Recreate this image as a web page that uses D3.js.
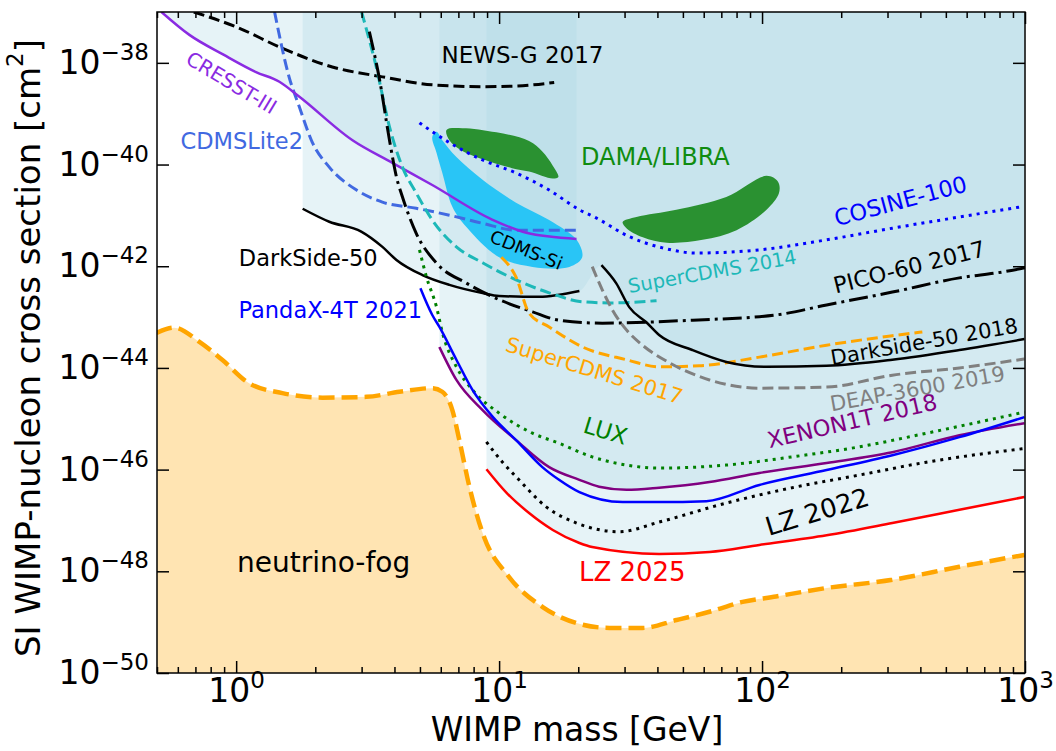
<!DOCTYPE html>
<meta charset="utf-8">
<script src="https://d3js.org/d3.v7.min.js"></script>
<style>
  body { margin: 0; background: #fff; }
  text { font-family: "DejaVu Sans", sans-serif; }
</style>
<div id="chart"></div>
<script>

// ---- data: [WIMP mass (GeV), cross section (cm^2)] ----
var cresst    = [[0.52,1e-37],[0.664,3.55e-38],[0.895,1.45e-38],[1.19,6.6e-39],[1.46,4.25e-39],[1.74,2.15e-39],[2.77,3.0e-40],[3.94,1.07e-40],[5.57,3.96e-41],[9.44,8.2e-42],[12.7,4.55e-42],[19.7,3.45e-42]];
var cdmslite  = [[1.40,1e-37],[1.59,5.25e-39],[1.74,1.35e-39],[1.95,2.7e-40],[2.26,8.9e-41],[2.87,3.15e-41],[3.60,1.82e-41],[4.84,1.38e-41],[6.47,1.01e-41],[8.63,7.0e-42],[11.6,5.1e-42],[19.9,5.1e-42]];
var newsg     = [[0.69,1e-37],[1.0,5.1e-38],[1.51,1.9e-38],[2.32,8.3e-39],[3.60,5.3e-39],[5.57,3.7e-39],[8.65,3.4e-39],[11.6,3.5e-39],[16.2,4.1e-39]];
var darkside  = [[1.79,1.35e-41],[2.26,7.5e-42],[2.99,4.8e-42],[3.60,2.4e-42],[4.07,1.33e-42],[5.11,6.7e-43],[6.47,4.3e-43],[8.65,2.97e-43],[10.0,2.6e-43],[14.2,2.5e-43],[20.2,3.25e-43]];
var pico60    = [[3.21,4.1e-38],[3.51,4.7e-39],[3.83,3.0e-40],[4.07,5.7e-41],[4.29,2.3e-41],[4.84,4.45e-42],[5.78,1.15e-42],[7.51,4.65e-43],[10.0,2.2e-43],[13.4,1.27e-43],[16.9,8.7e-44],[24.7,7.6e-44],[54.5,8.7e-44],[113,1.1e-43],[176,1.73e-43],[313,3.1e-43],[563,5.9e-43],[821,7.7e-43],[1000,9.3e-43]];
var scdms2014 = [[3.0,1e-37],[3.41,8.3e-39],[3.83,5.5e-40],[4.29,8.9e-41],[4.84,2.75e-41],[5.57,8.1e-42],[6.88,2.4e-42],[8.65,1.17e-42],[11.6,5.4e-43],[15.5,3.0e-43],[20.7,2.0e-43],[26.3,1.9e-43],[39.7,2.1e-43]];
var scdms2017 = [[10.2,1.5e-42],[11.6,6.1e-43],[13.0,1.2e-43],[15.5,6.4e-44],[20.7,2.6e-44],[30.5,1.45e-44],[40.6,1.05e-44],[57.7,1.1e-44],[97.7,1.63e-44],[176,2.8e-44],[313,4.3e-44],[407,5.1e-44]];
var ds2018    = [[24.5,1.05e-42],[27.9,4.6e-43],[31.3,1.55e-43],[36.3,7.9e-44],[40.6,4.45e-44],[54.3,2.25e-44],[73.2,1.31e-44],[104,1.05e-44],[176,1.1e-44],[313,1.45e-44],[563,2.25e-44],[995,3.7e-44]];
var deap      = [[22.6,9.8e-43],[24.7,3.4e-43],[27.0,1.37e-43],[30.5,5.6e-44],[35.1,2.8e-44],[44.5,1.26e-44],[63.1,5.8e-45],[97.7,4.0e-45],[176,4.2e-45],[313,7.2e-45],[563,1.0e-44],[995,1.5e-44]];
var cosine    = [[4.98,6.6e-40],[6.47,2.7e-40],[8.65,1.23e-40],[11.6,6.8e-41],[15.5,3.15e-41],[20.2,1.29e-41],[23.4,8.9e-42],[31.3,3.8e-42],[41.8,2.3e-42],[56.2,1.82e-42],[97.7,2.1e-42],[176,3.3e-42],[313,5.6e-42],[563,9.3e-42],[970,1.48e-41]];
var lux       = [[4.98,2.1e-42],[5.29,6.2e-43],[5.78,1.58e-43],[6.09,4.9e-44],[6.88,1.05e-44],[7.92,3.7e-45],[10.0,1.29e-45],[13.4,5.2e-46],[16.9,3.3e-46],[22.6,1.78e-46],[30.5,1.23e-46],[40.6,1.07e-46],[73.1,1.23e-46],[130,1.78e-46],[234,2.8e-46],[422,5.2e-46],[995,1.35e-45]];
var pandax    = [[5.02,3.7e-43],[5.57,1.1e-43],[5.93,6.4e-44],[6.88,1.45e-44],[7.92,3.7e-45],[9.44,1.1e-45],[11.6,3.8e-46],[14.6,1.12e-46],[16.9,6.3e-47],[20.2,3.6e-47],[29.5,2.3e-47],[40.6,2.3e-47],[61.4,2.4e-47],[97.7,5.0e-47],[176,9.8e-47],[313,1.92e-46],[563,4.35e-46],[995,1.08e-45]];
var xenon1t   = [[5.93,2.57e-44],[6.88,5.8e-45],[8.65,1.48e-45],[11.6,3.8e-46],[15.5,1.12e-46],[20.2,6.3e-47],[24.0,4.6e-47],[30.5,4.0e-47],[40.6,4.4e-47],[63.1,5.7e-47],[97.7,8.6e-47],[176,1.35e-46],[313,2.2e-46],[563,4.75e-46],[995,8.2e-46]];
var lz2022    = [[8.95,3.5e-46],[10.3,1.4e-46],[11.9,6.3e-47],[15.1,1.85e-47],[19.7,8.9e-48],[28.7,6.0e-48],[40.6,9.3e-48],[73.1,2.2e-47],[130,4.4e-47],[234,7.8e-47],[422,1.4e-46],[995,2.6e-46]];
var lz2025    = [[8.95,1.02e-46],[10.7,3.45e-47],[13.0,1.4e-47],[16.0,6.5e-48],[20.2,3.6e-48],[22.6,3.0e-48],[40.6,2.2e-48],[63.1,2.4e-48],[97.7,3.3e-48],[176,5.1e-48],[313,8.9e-48],[563,1.62e-47],[995,2.9e-47]];
var fog       = [[0.498,4.9e-44],[0.582,6.2e-44],[0.725,3.25e-44],[0.887,1.43e-44],[1.12,5.0e-45],[1.50,3.2e-45],[2.13,2.6e-45],[3.13,2.7e-45],[4.18,3.4e-45],[5.57,4.0e-45],[6.08,3.4e-45],[6.64,1.48e-45],[7.06,3.8e-46],[7.71,4.6e-47],[8.65,5.7e-48],[10.9,7.8e-49],[14.6,2.0e-49],[19.7,9.6e-50],[26.3,7.7e-50],[35.1,7.7e-50],[47.3,1.1e-49],[63.1,1.6e-49],[84.3,2.5e-49],[113,3.2e-49],[176,4.7e-49],[313,6.8e-49],[563,1.23e-48],[995,2.1e-48]];

// signal regions (closed contours)
var dama1  = [[6.31,4.8e-40],[7.25,5.2e-40],[9.77,4.3e-40],[13.0,2.9e-40],[14.6,1.8e-40],[16.0,9.5e-41],[16.8,5.7e-41],[16.0,5.3e-41],[13.0,7.3e-41],[11.2,8.5e-41],[9.18,1.15e-40],[7.25,1.85e-40],[6.47,3.0e-40]];
var dama2  = [[29.5,7.4e-42],[33.3,9.3e-42],[47.2,1.29e-41],[73.1,2.3e-41],[104,6.0e-41],[115,4.6e-41],[116,2.75e-41],[104,1.29e-41],[80,5.1e-42],[59.4,3.3e-42],[43.4,2.9e-42],[35.2,3.7e-42],[30.5,5.6e-42]];
var cdmssi = [[5.78,4.4e-40],[6.08,3.0e-40],[6.88,1.4e-40],[8.65,5.0e-41],[11.6,1.78e-41],[15.5,8.1e-42],[19.7,3.3e-42],[20.7,1.5e-42],[18.5,9.7e-43],[13.4,9.7e-43],[10.0,1.5e-42],[7.51,5.9e-42],[6.64,1.48e-41],[6.08,6.9e-41],[5.78,1.7e-40],[5.57,3.5e-40]];

// axis ticks
var xMajor = [1, 10, 100, 1000];
var yMajorExp = [-50, -48, -46, -44, -42, -40, -38];

// text labels placed at [mass, cross section]
var labelText = ["NEWS-G 2017", "CRESST-III", "CDMSLite2", "DAMA/LIBRA", "COSINE-100", "DarkSide-50", "PandaX-4T 2021",
                 "CDMS-Si", "SuperCDMS 2014", "PICO-60 2017", "DarkSide-50 2018", "DEAP-3600 2019", "SuperCDMS 2017",
                 "LUX", "XENON1T 2018", "LZ 2022", "LZ 2025", "neutrino-fog"];
var labelMass  = [12.27, 0.96, 1.05, 39.3, 336, 1.88, 2.28, 12.7, 64.7, 363, 414, 390, 23.0, 25.4, 220, 162, 32.1, 2.15];
var labelSigma = [1.44e-38, 4.05e-39, 2.92e-40, 1.42e-40, 1.93e-41, 1.46e-42, 1.39e-43, 2.1e-42, 7.75e-43, 9.7e-43, 3.25e-44, 3.86e-45, 8.77e-45, 5.8e-46, 9.1e-46, 1.48e-47, 9.8e-49, 1.48e-48];

// ---- layout ----
var margin = {top: 12, right: 31, bottom: 78, left: 157},
    width = 1056 - margin.left - margin.right,
    height = 751 - margin.top - margin.bottom;

var svg = d3.select("#chart")
  .append("svg")
    .attr("width", 1056)
    .attr("height", 751)
  .append("g")
    .attr("transform", "translate(" + margin.left + "," + margin.top + ")");

var x = d3.scaleLog().domain([0.5, 1000]).range([0, width]);
var y = d3.scaleLog().domain([1e-50, 1e-37]).range([height, 0]);

svg.append("clipPath").attr("id", "clip")
  .append("rect").attr("width", width).attr("height", height);
var plot = svg.append("g").attr("clip-path", "url(#clip)");

var line = d3.line().x(function(d) { return x(d[0]); }).y(function(d) { return y(d[1]); }).curve(d3.curveMonotoneX);
var above = d3.area().x(function(d) { return x(d[0]); }).y0(0).y1(function(d) { return y(d[1]); }).curve(d3.curveMonotoneX);
var below = d3.area().x(function(d) { return x(d[0]); }).y0(height).y1(function(d) { return y(d[1]); }).curve(d3.curveMonotoneX);
var blob = d3.line().x(function(d) { return x(d[0]); }).y(function(d) { return y(d[1]); }).curve(d3.curveCatmullRomClosed);

// neutrino fog
plot.append("path").attr("d", below(fog)).attr("fill", "orange").attr("opacity", 0.3);

// excluded regions, stacked light blue
[cresst, darkside.concat(ds2018), xenon1t, lz2025].forEach(function(s) {
  plot.append("path").attr("d", above(s)).attr("fill", "lightblue").attr("opacity", 0.3);
});

// signal regions
plot.append("path").attr("d", blob(dama1)).attr("fill", "#2a9131");
plot.append("path").attr("d", blob(dama2)).attr("fill", "#2a9131");
plot.append("path").attr("d", blob(cdmssi)).attr("fill", "#29c5f6");

// limit curves
var dashed = "11,5", dotted = "3,5", dashdot = "19,5,3,5";
var curves = [
  {d: fog,       c: "orange",    w: 4.5, dash: "16,7"},
  {d: newsg,     c: "black",     w: 3,   dash: dashed},
  {d: cdmslite,  c: "#4169e1",   w: 3,   dash: dashed},
  {d: cresst,    c: "#8a2be2",   w: 2.5},
  {d: darkside,  c: "black",     w: 2.5},
  {d: scdms2014, c: "#1db8b8",   w: 3,   dash: dashed},
  {d: pico60,    c: "black",     w: 3,   dash: dashdot},
  {d: scdms2017, c: "orange",    w: 3,   dash: dashed},
  {d: deap,      c: "gray",      w: 3,   dash: dashed},
  {d: ds2018,    c: "black",     w: 2.5},
  {d: cosine,    c: "blue",      w: 3,   dash: dotted},
  {d: lux,       c: "green",     w: 3,   dash: dotted},
  {d: xenon1t,   c: "purple",    w: 2.5},
  {d: pandax,    c: "blue",      w: 2.5},
  {d: lz2022,    c: "black",     w: 3,   dash: dotted},
  {d: lz2025,    c: "red",       w: 2.5}
];
curves.forEach(function(s) {
  plot.append("path")
    .attr("d", line(s.d))
    .attr("fill", "none")
    .attr("stroke", s.c)
    .attr("stroke-width", s.w)
    .attr("stroke-dasharray", s.dash || null);
});

// labels
var labelStyle = {
  "NEWS-G 2017":      {c: "black",   r: 0,   s: 23},
  "CRESST-III":       {c: "#8a2be2", r: 31,  s: 20},
  "CDMSLite2":        {c: "#4169e1", r: 0,   s: 22.5},
  "DAMA/LIBRA":       {c: "#108c10", r: 0,   s: 24},
  "COSINE-100":       {c: "blue",    r: -15, s: 22.5},
  "DarkSide-50":      {c: "black",   r: 0,   s: 22.5},
  "PandaX-4T 2021":   {c: "blue",    r: 0,   s: 22.5},
  "CDMS-Si":          {c: "black",   r: 22,  s: 18},
  "SuperCDMS 2014":   {c: "#1db8b8", r: -10, s: 19.5},
  "PICO-60 2017":     {c: "black",   r: -14, s: 22.5},
  "DarkSide-50 2018": {c: "black",   r: -10, s: 21},
  "DEAP-3600 2019":   {c: "gray",    r: -10, s: 21},
  "SuperCDMS 2017":   {c: "orange",  r: 17,  s: 21},
  "LUX":              {c: "green",   r: 17,  s: 23},
  "XENON1T 2018":     {c: "purple",  r: -13, s: 22.5},
  "LZ 2022":          {c: "black",   r: -17, s: 26},
  "LZ 2025":          {c: "red",     r: 0,   s: 26},
  "neutrino-fog":     {c: "black",   r: 0,   s: 28}
};
svg.append("g").selectAll("text")
  .data(labelText)
  .enter().append("text")
    .attr("transform", function(d, i) {
      return "translate(" + x(labelMass[i]) + "," + y(labelSigma[i]) + ") rotate(" + labelStyle[d].r + ")";
    })
    .attr("text-anchor", "middle")
    .attr("dominant-baseline", "central")
    .style("font-size", function(d) { return labelStyle[d].s + "px"; })
    .style("fill", function(d) { return labelStyle[d].c; })
    .text(function(d) { return d; });

// ---- axes: inward ticks on all four sides ----
var xMinor = x.ticks().filter(function(v) { return xMajor.indexOf(v) < 0; });
var yMajor = yMajorExp.map(function(e) { return Math.pow(10, e); });

function tidy(g) { g.select(".domain").remove(); g.selectAll(".tick line").attr("stroke-width", 1.5); }

svg.append("g").attr("transform", "translate(0," + height + ")")
  .call(d3.axisBottom(x).tickValues(xMinor).tickSizeInner(-6).tickSizeOuter(0).tickFormat("")).call(tidy);
svg.append("g")
  .call(d3.axisTop(x).tickValues(xMinor).tickSizeInner(-6).tickSizeOuter(0).tickFormat("")).call(tidy);
svg.append("g")
  .call(d3.axisTop(x).tickValues(xMajor).tickSizeInner(-12).tickSizeOuter(0).tickFormat("")).call(tidy);
svg.append("g").attr("transform", "translate(" + width + ",0)")
  .call(d3.axisRight(y).tickValues(yMajor).tickSizeInner(-12).tickSizeOuter(0).tickFormat("")).call(tidy);

function power(d) { return Math.round(Math.log10(d)); }
function sup(e) { return e < 0 ? "\u2212" + (-e) : String(e); }

var xAx = svg.append("g").attr("transform", "translate(0," + height + ")")
  .call(d3.axisBottom(x).tickValues(xMajor).tickSizeInner(-12).tickSizeOuter(0).tickPadding(6).tickFormat(function() { return "10"; }))
  .call(tidy);
var yAx = svg.append("g")
  .call(d3.axisLeft(y).tickValues(yMajor).tickSizeInner(-12).tickSizeOuter(0).tickPadding(8).tickFormat(function() { return "10"; }))
  .call(tidy);

[xAx, yAx].forEach(function(ax) {
  ax.selectAll(".tick text")
    .attr("fill", "black")
    .style("font-family", "DejaVu Sans")
    .style("font-size", "33px")
    .each(function(d) {
      d3.select(this).append("tspan")
        .attr("dy", "-14")
        .style("font-size", "23px")
        .text(sup(power(d)));
    });
});

// frame
svg.append("rect")
  .attr("width", width).attr("height", height)
  .attr("fill", "none").attr("stroke", "black").attr("stroke-width", 1.5);

// axis titles
svg.append("text")
  .attr("x", 577 - margin.left).attr("y", height + 56)
  .attr("text-anchor", "middle").attr("dominant-baseline", "central")
  .style("font-size", "33px")
  .text("WIMP mass [GeV]");

svg.append("text")
  .attr("transform", "translate(" + (28 - margin.left) + "," + (348 - margin.top) + ") rotate(-90)")
  .attr("text-anchor", "middle").attr("dominant-baseline", "central")
  .style("font-size", "34px")
  .text("SI WIMP-nucleon cross section [cm")
  .append("tspan").attr("dy", -13).style("font-size", "23px").text("2")
  .select(function() { return this.parentNode; })
  .append("tspan").attr("dy", 13).text("]");

</script>
